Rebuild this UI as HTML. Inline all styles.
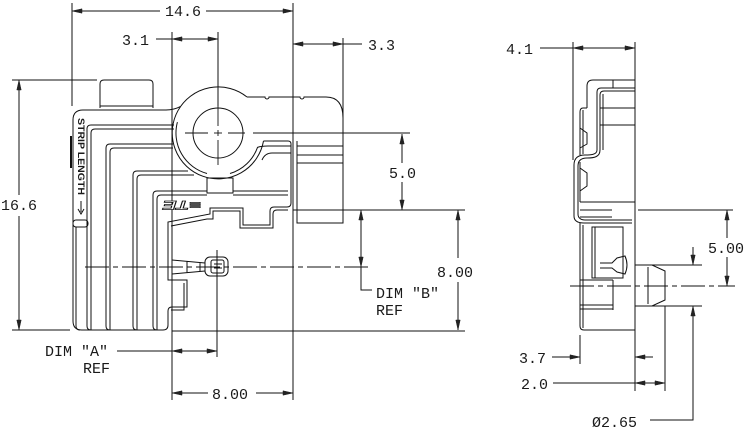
<!DOCTYPE html>
<html><head><meta charset="utf-8"><style>
html,body{margin:0;padding:0;background:#fff;}
svg{display:block;}
text{font-family:"Liberation Mono","DejaVu Sans Mono",monospace;font-size:15px;fill:#1a1a1a;}
</style></head><body>
<svg width="752" height="432" viewBox="0 0 752 432" xmlns="http://www.w3.org/2000/svg">
<g fill="none" stroke="#111" stroke-width="1">
<!-- ===== DIMENSIONS LEFT VIEW ===== -->
<!-- 14.6 -->
<line x1="72" y1="3" x2="72" y2="106"/>
<line x1="293" y1="3" x2="293" y2="400"/>
<line x1="72" y1="11" x2="160" y2="11"/>
<line x1="206" y1="11" x2="293" y2="11"/>
<!-- 3.1 -->
<line x1="172" y1="32" x2="172" y2="400"/>
<line x1="218" y1="32" x2="218" y2="106"/>
<line x1="156" y1="39" x2="218" y2="39"/>
<!-- 3.3 -->
<line x1="343" y1="38" x2="343" y2="120"/>
<line x1="293" y1="44" x2="362" y2="44"/>
<!-- 16.6 -->
<line x1="12" y1="80" x2="97" y2="80"/>
<line x1="12" y1="330" x2="70" y2="330"/>
<line x1="19" y1="80" x2="19" y2="195"/>
<line x1="19" y1="216" x2="19" y2="330"/>
<!-- 5.0 -->
<line x1="402" y1="134" x2="402" y2="163"/>
<line x1="402" y1="182" x2="402" y2="210"/>
<line x1="293" y1="210" x2="465" y2="210"/>
<!-- 8.00 right -->
<line x1="458" y1="210" x2="458" y2="258"/>
<line x1="458" y1="282" x2="458" y2="330"/>
<line x1="172" y1="331" x2="465" y2="331"/>
<!-- DIM B -->
<polyline points="361,210 361,290 372,290"/>
<!-- DIM A -->
<line x1="117" y1="351" x2="217" y2="351"/>
<line x1="217" y1="250" x2="217" y2="357"/>
<!-- 8.00 bottom -->
<line x1="172" y1="393" x2="208" y2="393"/>
<line x1="256" y1="393" x2="293" y2="393"/>

<!-- ===== DIMENSIONS RIGHT VIEW ===== -->
<line x1="573" y1="42" x2="573" y2="160"/>
<line x1="635" y1="42" x2="635" y2="391"/>
<line x1="540" y1="48" x2="635" y2="48"/>
<!-- 5.00 -->
<line x1="638" y1="210" x2="733" y2="210"/>
<line x1="727" y1="210" x2="727" y2="238"/>
<line x1="727" y1="257" x2="727" y2="286"/>
<!-- dia 2.65 -->
<line x1="652" y1="265" x2="702" y2="265"/>
<line x1="652" y1="306" x2="702" y2="306"/>
<line x1="693" y1="247" x2="693" y2="265"/>
<polyline points="693,306 693,420 650,420"/>
<!-- 3.7 -->
<line x1="580" y1="335" x2="580" y2="364"/>
<line x1="552" y1="357" x2="580" y2="357"/>
<line x1="635" y1="357" x2="653" y2="357"/>
<!-- 2.0 -->
<line x1="665" y1="306" x2="665" y2="391"/>
<line x1="553" y1="383" x2="665" y2="383"/>
</g>

<!-- arrowheads -->
<g fill="#222" stroke="#222" stroke-width="0.5">
<polygon points="72,11 82,8.8 82,13.2"/>
<polygon points="293,11 283,8.8 283,13.2"/>
<polygon points="172,39 182,36.8 182,41.2"/>
<polygon points="218,39 208,36.8 208,41.2"/>
<polygon points="293,44 303,41.8 303,46.2"/>
<polygon points="343,44 333,41.8 333,46.2"/>
<polygon points="19,80 16.8,90 21.2,90"/>
<polygon points="19,330 16.8,320 21.2,320"/>
<polygon points="402,134 399.8,144 404.2,144"/>
<polygon points="402,210 399.8,200 404.2,200"/>
<polygon points="458,210 455.8,220 460.2,220"/>
<polygon points="458,330 455.8,320 460.2,320"/>
<polygon points="361,210 358.8,220 363.2,220"/>
<polygon points="361,267 358.8,257 363.2,257"/>
<polygon points="172,351 182,348.8 182,353.2"/>
<polygon points="217,351 207,348.8 207,353.2"/>
<polygon points="172,393 182,390.8 182,395.2"/>
<polygon points="293,393 283,390.8 283,395.2"/>
<polygon points="573,48 583,45.8 583,50.2"/>
<polygon points="635,48 625,45.8 625,50.2"/>
<polygon points="727,210 724.8,220 729.2,220"/>
<polygon points="727,286 724.8,276 729.2,276"/>
<polygon points="693,265 690.8,255 695.2,255"/>
<polygon points="693,306 690.8,316 695.2,316"/>
<polygon points="580,357 570,354.8 570,359.2"/>
<polygon points="635,357 645,354.8 645,359.2"/>
<polygon points="635,383 645,380.8 645,385.2"/>
<polygon points="665,383 655,380.8 655,385.2"/>
</g>

<!-- centre lines -->
<g fill="none" stroke="#111" stroke-width="0.9">
<line x1="85" y1="267" x2="368" y2="267" stroke-dasharray="24 4 5 4"/>
<line x1="185" y1="133" x2="208" y2="133"/>
<line x1="214" y1="133" x2="222" y2="133"/>
<line x1="228" y1="133" x2="245" y2="133"/>
<line x1="253" y1="133" x2="410" y2="133"/>
<line x1="218" y1="106" x2="218" y2="126"/>
<line x1="218" y1="130" x2="218" y2="136"/>
<line x1="218" y1="140" x2="218" y2="165"/>
<line x1="570" y1="286" x2="735" y2="286" stroke-dasharray="24 4 5 4"/>
</g>

<!-- ===== LEFT VIEW BODY ===== -->
<g fill="none" stroke="#111" stroke-width="1">
<!-- top tab -->
<path d="M100,108 L100,84 Q100,80 104,80 L149,80 Q153,80 153,84 L153,108"/>
<line x1="100" y1="106" x2="153" y2="106"/>
<!-- outer contour -->
<path d="M180.3,106.6 Q174,110 166,110 L83,110 Q73,110 73,120 L73,321 Q73,330 82,330 L163,330 Q168,330 168,325 L168,311 Q168,307 172,307 L187,307 L187,280 L168,280 L168,222 L210,214 L210,208 L243,208 L243,225 L270,225 L270,211 Q270,207 274,207 L287,207 Q291,207 291,203 L291,144 Q291,141 288,141 L263.5,141"/>
<path d="M171,310 L184,310 L184,283 M171,226 L207,219 L213,219 L213,211 L240,211 L240,228 L273,228 L273,214 Q273,210 277,210 L288,210"/>
<!-- ring -->
<path d="M247,97 A46,46 0 1 0 263.5,141"/>
<path d="M177.4,122.1 A42,42 0 0 0 207,173.5"/>
<path d="M230,173.5 A42,42 0 0 0 257.5,147.4 Q261,146 268,146 L291,146"/>
<path d="M262,160 Q265,153 272,153 L291,153"/>
<circle cx="218" cy="133" r="25"/>
<rect x="207" y="178" width="26" height="15"/>
<!-- tongue -->
<path d="M247,97 L265,97 A2,2 0 0 0 269,97 L300,97 A2,2 0 0 0 304,97 L326,97 Q343,97 343,118 L343,223 L297,223 L297,141"/>
<line x1="297" y1="146" x2="343" y2="146"/>
<line x1="297" y1="155" x2="343" y2="155"/>
<line x1="297" y1="163" x2="343" y2="163"/>
<!-- nested L lines -->
<path d="M76,227 L76,326 Q76,330 80,330"/>
<path d="M174,125 L91,125 Q87,125 87,129 L87,326 Q87,330 91,330"/>
<path d="M174,129 L95,129 Q91,129 91,133 L91,330"/>
<path d="M173,144 L110,144 Q106,144 106,148 L106,326 Q106,330 110,330"/>
<path d="M173,148 L114,148 Q110,148 110,152 L110,330"/>
<path d="M188,171 L137,171 Q133,171 133,175 L133,326 Q133,330 137,330"/>
<path d="M194,175 L141,175 Q137,175 137,179 L137,330"/>
<path d="M207,191 L157,191 Q153,191 153,195 L153,326 Q153,330 157,330"/>
<path d="M207,195 L161,195 Q157,195 157,199 L157,330"/>
<line x1="233" y1="191" x2="288" y2="191"/>
<line x1="233" y1="195" x2="288" y2="195"/>
<!-- slider -->
<rect x="73" y="220" width="15" height="7" rx="3"/>
<!-- terminal -->
<path d="M172,260 L205,263 M172,274 L205,271 M187,261.5 L187,272.5 M200,262.5 L200,271.5"/>
<rect x="205" y="257" width="23" height="19" rx="5"/>
<rect x="211" y="260" width="13" height="13" rx="2"/>
<line x1="214" y1="264" x2="222" y2="264"/>
<line x1="214" y1="268" x2="222" y2="268"/>
</g>
<line x1="71" y1="136" x2="71" y2="168" stroke="#111" stroke-width="2"/>
<text x="0" y="0" transform="translate(78,118) rotate(90)" style="font-family:'Liberation Sans',sans-serif;font-size:9px;font-weight:bold;" textLength="77" lengthAdjust="spacingAndGlyphs">STRIP LENGTH</text>
<path d="M81,201 L81,212 M78,209 L81,214 L84,209" fill="none" stroke="#111" stroke-width="1"/>
<text x="0" y="0" transform="translate(182,204) rotate(180)" text-anchor="middle" dominant-baseline="middle" style="font-family:'Liberation Sans',sans-serif;font-size:12px;font-weight:bold;font-style:italic;fill:#fff;stroke:#111;stroke-width:0.7" textLength="38" lengthAdjust="spacingAndGlyphs">≡TE</text>

<!-- ===== RIGHT VIEW BODY ===== -->
<g fill="none" stroke="#111" stroke-width="1">
<path d="M587,108 L587,86 Q587,80 593,80 L635,80"/>
<line x1="613" y1="80" x2="613" y2="88"/>
<path d="M635,88 L601,88 Q597,88 597,92 L597,150"/>
<path d="M635,91 L604,91 Q600,91 600,95 L600,150"/>
<line x1="603" y1="94" x2="603" y2="150"/>
<line x1="600" y1="108" x2="635" y2="108"/>
<line x1="600" y1="125" x2="635" y2="125"/>
<path d="M587,108 L583,108 Q580,108 580,112 L580,155"/>
<line x1="583" y1="110" x2="583" y2="154"/>
<path d="M580,128 L587,133 L587,144 L580,148"/>
<path d="M580,168 L587,173 L587,186 L580,191"/>
<path d="M597,150 C597,155 590,155 585,155 C578,155 574,158 574,165 L574,216 C574,221 578,223 584,223 L632,223"/>
<path d="M600,150 C600,157 594,158 587,158 C581,158 578,161 578,166 L578,214 C578,218 581,220 585,220 L632,220"/>
<line x1="580" y1="162" x2="580" y2="202"/>
<line x1="580" y1="202" x2="635" y2="202"/>
<line x1="580" y1="210" x2="612" y2="210"/>
<line x1="580" y1="217" x2="612" y2="217"/>
<path d="M580,223 L580,326 Q580,330 584,330 L635,330"/>
<line x1="583" y1="225" x2="583" y2="328"/>
<rect x="592" y="227" width="31" height="51"/>
<line x1="595" y1="227" x2="595" y2="278"/>
<path d="M600,263 L612,263 L617,258 L625,256 Q629,265 625,274 L617,272 L612,268 L600,268"/>
<line x1="580" y1="280" x2="613" y2="280"/>
<line x1="613" y1="280" x2="613" y2="310"/>
<line x1="580" y1="305" x2="613" y2="305"/>
<line x1="580" y1="309" x2="613" y2="309"/>
<!-- nose -->
<path d="M635,265 L652,265 L665,271 L665,300 L652,306 L635,306"/>
<line x1="648" y1="267" x2="648" y2="304"/>
</g>

<!-- ===== TEXT ===== -->
<text x="165" y="16">14.6</text>
<text x="122" y="45">3.1</text>
<text x="368" y="50">3.3</text>
<text x="1" y="210">16.6</text>
<text x="389" y="178">5.0</text>
<text x="437" y="277">8.00</text>
<text x="376" y="298">DIM "B"</text>
<text x="376" y="315">REF</text>
<text x="45" y="356">DIM "A"</text>
<text x="83" y="373">REF</text>
<text x="212" y="399">8.00</text>
<text x="506" y="54">4.1</text>
<text x="708" y="253">5.00</text>
<text x="519" y="363">3.7</text>
<text x="521" y="389">2.0</text>
<text x="592" y="427">Ø2.65</text>
</svg>
</body></html>
